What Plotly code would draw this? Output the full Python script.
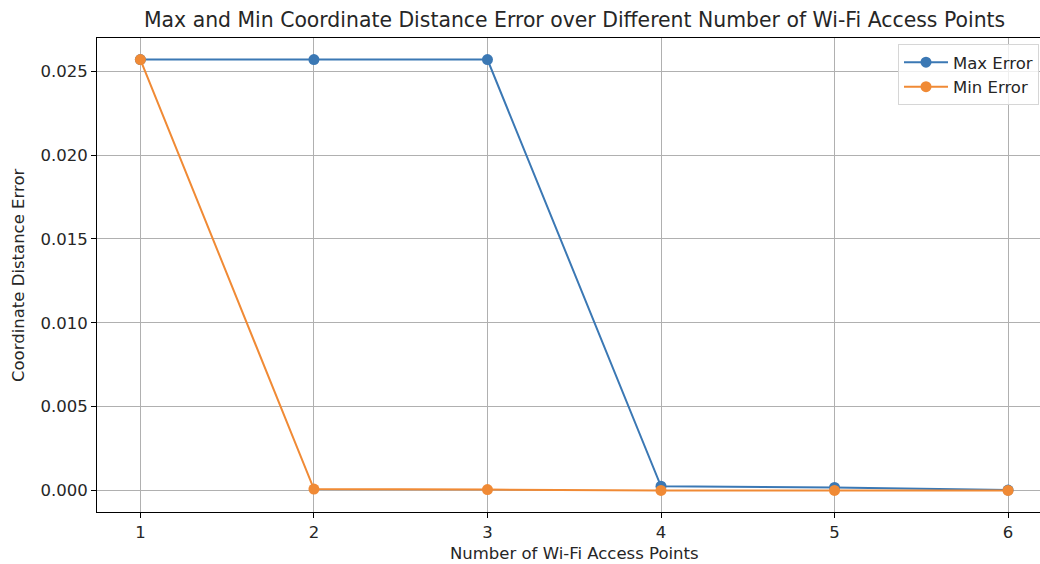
import plotly.graph_objects as go

access_points = [1, 2, 3, 4, 5, 6]
max_error = [0.0257, 0.0257, 0.0257, 0.00025, 0.00018, 0.00002]
min_error = [0.0257, 0.00008, 0.00005, 0.0, 0.0, 0.0]
y_ticks = [0.0, 0.005, 0.010, 0.015, 0.020, 0.025]
y_tick_labels = ["0.000", "0.005", "0.010", "0.015", "0.020", "0.025"]

BLUE = "#3b78b4"
ORANGE = "#f08a35"
FONT = "DejaVu Sans"
TXT = "#262626"

fig = go.Figure()
fig.add_trace(go.Scatter(x=access_points, y=max_error, mode="lines+markers", name="Max Error",
                         line=dict(color=BLUE, width=2), marker=dict(color=BLUE, size=11)))
fig.add_trace(go.Scatter(x=access_points, y=min_error, mode="lines+markers", name="Min Error",
                         line=dict(color=ORANGE, width=2), marker=dict(color=ORANGE, size=11)))

L, R, T, B = 97, 0, 38, 52
W, H = 1040, 564
pw = W - L - R
ph = H - T - B

fig.update_layout(
    width=W, height=H,
    margin=dict(l=L, r=R, t=T, b=B, autoexpand=False),
    paper_bgcolor="white", plot_bgcolor="white",
    font=dict(family=FONT, size=16, color=TXT),
    showlegend=True,
    legend=dict(x=(898 - L) / pw, y=1 - (44 - T) / ph, xanchor="left", yanchor="top",
                bgcolor="rgba(255,255,255,0.8)", bordercolor="#d6d6d6", borderwidth=1,
                font=dict(family=FONT, size=16.5, color=TXT), tracegroupgap=0,
                itemwidth=44),
    xaxis=dict(range=[0.75, 6.184], tickmode="array", tickvals=access_points,
               ticktext=[str(v) for v in access_points],
               showgrid=True, gridcolor="#b0b0b0", gridwidth=1,
               showline=True, linecolor="black", linewidth=1, mirror=True,
               ticks="outside", ticklen=5, tickcolor="black", zeroline=False,
               automargin=False,
               tickfont=dict(family=FONT, size=16.5, color=TXT)),
    yaxis=dict(range=[-0.001285, 0.026985], tickmode="array", tickvals=y_ticks, ticktext=y_tick_labels,
               showgrid=True, gridcolor="#b0b0b0", gridwidth=1,
               showline=True, linecolor="black", linewidth=1,
               ticks="outside", ticklen=5, tickcolor="black", zeroline=False,
               automargin=False,
               tickfont=dict(family=FONT, size=16.5, color=TXT)),
)

cx = (574 - L) / pw
fig.add_annotation(text="Max and Min Coordinate Distance Error over Different Number of Wi-Fi Access Points",
                   xref="paper", yref="paper", x=cx, y=1, yshift=18, showarrow=False,
                   font=dict(family=FONT, size=20.4, color=TXT), yanchor="middle")
fig.add_annotation(text="Number of Wi-Fi Access Points", xref="paper", yref="paper", x=cx, y=0,
                   yshift=-41, showarrow=False, yanchor="middle",
                   font=dict(family=FONT, size=16.5, color=TXT))
fig.add_annotation(text="Coordinate Distance Error", xref="paper", yref="paper",
                   x=0, xshift=-79, y=0.5, showarrow=False, textangle=-90, xanchor="center",
                   font=dict(family=FONT, size=16.5, color=TXT))

fig.write_html("out.html", config={"displayModeBar": False},
               post_script="document.body.style.margin='0px';")
